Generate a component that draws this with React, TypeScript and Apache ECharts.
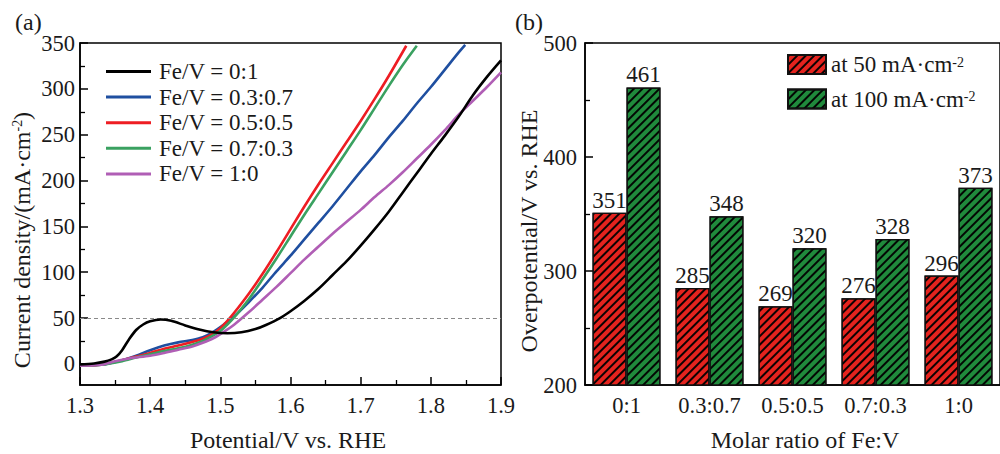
import React, { useEffect, useRef } from "react";
import * as echarts from "echarts";

const FONT = "Liberation Serif";
const INK = "#1a1a1a";

// ---- panel (a): LSV curves, [potential V, current density mA/cm2]
const seriesNames = [
  "Fe/V = 0:1",
  "Fe/V = 0.3:0.7",
  "Fe/V = 0.5:0.5",
  "Fe/V = 0.7:0.3",
  "Fe/V = 1:0",
];
const lineColors = ["#000000", "#1f4fa0", "#ee1d23", "#3aa160", "#b05eb5"];

const curveFe0V1 = [
  [1.3, -0.5], [1.32, 0.5], [1.335, 2.5], [1.345, 5], [1.352, 8], [1.36, 15],
  [1.37, 27], [1.38, 37], [1.39, 43], [1.4, 46.5], [1.415, 48.5], [1.43, 47],
  [1.45, 42], [1.47, 37.5], [1.49, 34.5], [1.51, 33.5], [1.53, 34.5], [1.55, 38],
  [1.565, 42.5], [1.585, 50], [1.6, 57.5], [1.62, 69], [1.64, 82], [1.66, 97],
  [1.68, 112], [1.7, 129], [1.72, 147], [1.74, 166], [1.76, 187], [1.78, 208],
  [1.8, 229], [1.82, 249], [1.84, 270], [1.86, 293], [1.88, 313], [1.9, 331],
];
const curveFe03V07 = [
  [1.3, -2], [1.33, -1], [1.36, 4], [1.38, 9], [1.4, 15], [1.42, 20], [1.44, 23.5],
  [1.46, 26], [1.475, 29], [1.49, 35], [1.505, 43], [1.52, 52], [1.54, 67],
  [1.56, 83], [1.58, 101], [1.6, 118], [1.62, 136], [1.64, 154], [1.66, 172],
  [1.68, 191], [1.7, 210], [1.72, 228], [1.74, 247], [1.76, 265], [1.78, 284],
  [1.8, 302], [1.82, 321], [1.84, 340], [1.849, 348],
];
const curveFe05V05 = [
  [1.3, -2], [1.33, -1], [1.36, 4], [1.38, 8], [1.4, 12], [1.42, 16.5], [1.44, 20],
  [1.46, 24], [1.475, 27.5], [1.49, 33], [1.5, 39], [1.51, 47], [1.52, 56],
  [1.54, 76], [1.56, 98], [1.58, 122], [1.6, 147], [1.62, 172], [1.64, 196],
  [1.66, 219], [1.68, 242], [1.7, 265], [1.72, 289], [1.74, 314], [1.765, 347],
];
const curveFe07V03 = [
  [1.3, -2], [1.33, -1], [1.36, 3], [1.38, 7], [1.4, 10.5], [1.42, 14], [1.44, 17],
  [1.46, 21], [1.475, 25], [1.49, 31], [1.5, 36], [1.51, 43], [1.52, 51],
  [1.54, 70], [1.56, 92], [1.58, 115], [1.6, 139], [1.62, 163], [1.64, 186],
  [1.66, 209], [1.68, 232], [1.7, 255], [1.72, 279], [1.74, 303], [1.76, 326],
  [1.78, 347],
];
const curveFe1V0 = [
  [1.3, -2], [1.33, -1], [1.35, 3], [1.37, 6], [1.4, 9], [1.42, 12], [1.44, 15.5],
  [1.46, 19], [1.475, 23], [1.49, 28], [1.505, 35], [1.52, 43], [1.54, 56],
  [1.56, 70], [1.58, 84], [1.6, 99], [1.62, 114], [1.64, 128], [1.66, 142],
  [1.68, 155], [1.7, 168], [1.72, 182], [1.74, 195], [1.76, 209], [1.78, 224],
  [1.8, 239], [1.82, 255], [1.84, 272], [1.86, 287], [1.88, 302], [1.9, 318],
];
const curves = [curveFe0V1, curveFe03V07, curveFe05V05, curveFe07V03, curveFe1V0];

const jMajorTicks = [0, 50, 100, 150, 200, 250, 300, 350];
const jMinorTicks = [25, 75, 125, 175, 225, 275, 325];
const referenceCurrent = 50;

// ---- panel (b): overpotentials
const ratioCategories = ["0:1", "0.3:0.7", "0.5:0.5", "0.7:0.3", "1:0"];
const barNames = ["at 50 mA·cm-2", "at 100 mA·cm-2"];
const eta50 = [351, 285, 269, 276, 296];
const eta100 = [461, 348, 320, 328, 373];
const barColors = ["#e4231e", "#208a3c"];

const hatch = {
  symbol: "rect",
  symbolSize: 1,
  color: "rgba(0,0,0,0.95)",
  dashArrayX: [1, 0],
  dashArrayY: [1.1, 4],
  rotation: -Math.PI / 4,
};

export default function App() {
  const ref = useRef<HTMLDivElement>(null);

  useEffect(() => {
    if (!ref.current) return;
    const chart = echarts.init(ref.current, undefined, { renderer: "svg" });

    const axisLine = { show: true, onZero: false, lineStyle: { color: "#000", width: 1.5 } };
    const label = { fontFamily: FONT, fontSize: 22.5, color: INK };
    const sup = { fontFamily: FONT, fontSize: 14, color: INK, verticalAlign: "top", lineHeight: 10 };

    const lineSeries = curves.map((data, i) => ({
      type: "line",
      name: seriesNames[i],
      xAxisIndex: 0,
      yAxisIndex: 0,
      data,
      showSymbol: false,
      symbol: "none",
      smooth: 0.3,
      lineStyle: { color: lineColors[i], width: 2.6 },
      itemStyle: { color: lineColors[i] },
      z: i === 0 ? 6 : 2 + i * 0.1,
      markLine:
        i === 0
          ? {
              silent: true,
              symbol: "none",
              label: { show: false },
              lineStyle: { color: "#8a8a8a", type: [4, 3], width: 1 },
              data: [{ yAxis: referenceCurrent }],
            }
          : undefined,
    }));

    const barSeries = [eta50, eta100].map((data, i) => ({
      type: "bar",
      name: barNames[i],
      xAxisIndex: 1,
      yAxisIndex: 2,
      data,
      barWidth: 34,
      barGap: "0%",
      itemStyle: {
        color: barColors[i],
        borderColor: "#111",
        borderWidth: 1.2,
        decal: hatch,
      },
      label: {
        show: true,
        position: "top",
        distance: 1,
        fontFamily: FONT,
        fontSize: 23,
        color: INK,
      },
    }));

    chart.setOption({
      animation: false,
      backgroundColor: "#fff",
      textStyle: { fontFamily: FONT },
      grid: [
        { left: 80, top: 43, width: 421, height: 342, show: true, borderColor: "#000", borderWidth: 1.5 },
        { left: 585, top: 43, width: 420, height: 342, show: true, borderColor: "#000", borderWidth: 1.5 },
      ],
      xAxis: [
        {
          gridIndex: 0,
          type: "value",
          min: 1.3,
          max: 1.9,
          interval: 0.1,
          axisLine,
          axisTick: { show: true, inside: true, length: 8, lineStyle: { color: "#000", width: 1.5 } },
          minorTick: { show: true, splitNumber: 2, length: 5, lineStyle: { color: "#000", width: 1.3 } },
          splitLine: { show: false },
          axisLabel: { ...label, margin: 9, formatter: (v: number) => v.toFixed(1) },
        },
        {
          gridIndex: 1,
          type: "category",
          data: ratioCategories,
          axisLine,
          axisTick: { show: false },
          splitLine: { show: false },
          axisLabel: { ...label, margin: 9 },
        },
      ],
      yAxis: [
        {
          gridIndex: 0,
          type: "value",
          min: -23,
          max: 350,
          position: "left",
          axisLine,
          axisTick: { show: true, inside: true, length: 8, customValues: jMajorTicks, lineStyle: { color: "#000", width: 1.5 } },
          axisLabel: { ...label, margin: 5, customValues: jMajorTicks },
          splitLine: { show: false },
        },
        {
          gridIndex: 0,
          type: "value",
          min: -23,
          max: 350,
          position: "left",
          axisLine: { show: false, onZero: false },
          axisTick: { show: true, inside: true, length: 5, customValues: jMinorTicks, lineStyle: { color: "#000", width: 1.3 } },
          axisLabel: { show: false },
          splitLine: { show: false },
        },
        {
          gridIndex: 1,
          type: "value",
          min: 200,
          max: 500,
          interval: 100,
          axisLine,
          axisTick: { show: true, inside: true, length: 8, lineStyle: { color: "#000", width: 1.5 } },
          minorTick: { show: true, splitNumber: 2, length: 5, lineStyle: { color: "#000", width: 1.3 } },
          axisLabel: { ...label, margin: 8 },
          splitLine: { show: false },
        },
      ],
      legend: [
        {
          data: seriesNames,
          orient: "vertical",
          left: 106,
          top: 60,
          padding: 0,
          icon: "rect",
          itemWidth: 45,
          itemHeight: 3,
          itemGap: 2.6,
          selectedMode: false,
          textStyle: { fontFamily: FONT, fontSize: 23, color: INK, lineHeight: 23, padding: [0, 0, 0, 3] },
        },
        {
          data: barNames,
          orient: "vertical",
          left: 787,
          top: 53,
          padding: 0,
          icon: "rect",
          itemWidth: 38,
          itemHeight: 19,
          itemGap: 11.5,
          selectedMode: false,
          formatter: (name: string) => name.replace("-2", "{sup|-2}"),
          textStyle: {
            fontFamily: FONT,
            fontSize: 23,
            color: INK,
            lineHeight: 19,
            rich: { sup },
          },
        },
      ],
      graphic: [
        { type: "text", x: 15, y: 22, style: { text: "(a)", fontFamily: FONT, fontSize: 24, fill: INK, align: "left", verticalAlign: "middle" } },
        { type: "text", x: 515, y: 22, style: { text: "(b)", fontFamily: FONT, fontSize: 24, fill: INK, align: "left", verticalAlign: "middle" } },
        { type: "text", x: 288, y: 440, style: { text: "Potential/V vs. RHE", fontFamily: FONT, fontSize: 24, fill: INK, align: "center", verticalAlign: "middle" } },
        { type: "text", x: 805, y: 440, style: { text: "Molar ratio of Fe:V", fontFamily: FONT, fontSize: 24, fill: INK, align: "center", verticalAlign: "middle" } },
        {
          type: "text",
          x: 22,
          y: 240,
          rotation: Math.PI / 2,
          style: {
            text: "Current density/(mA·cm{sup|-2})",
            fontFamily: FONT,
            fontSize: 24,
            fill: INK,
            align: "center",
            verticalAlign: "middle",
            lineHeight: 24,
            rich: { sup },
          },
        },
        {
          type: "text",
          x: 529,
          y: 231,
          rotation: Math.PI / 2,
          style: { text: "Overpotential/V vs. RHE", fontFamily: FONT, fontSize: 24, fill: INK, align: "center", verticalAlign: "middle" },
        },
      ],
      series: [...lineSeries, ...barSeries],
    });

    return () => chart.dispose();
  }, []);

  return (
    <div
      ref={ref}
      style={{ position: "fixed", left: 0, top: 0, width: 1000, height: 454, background: "#fff" }}
    />
  );
}
